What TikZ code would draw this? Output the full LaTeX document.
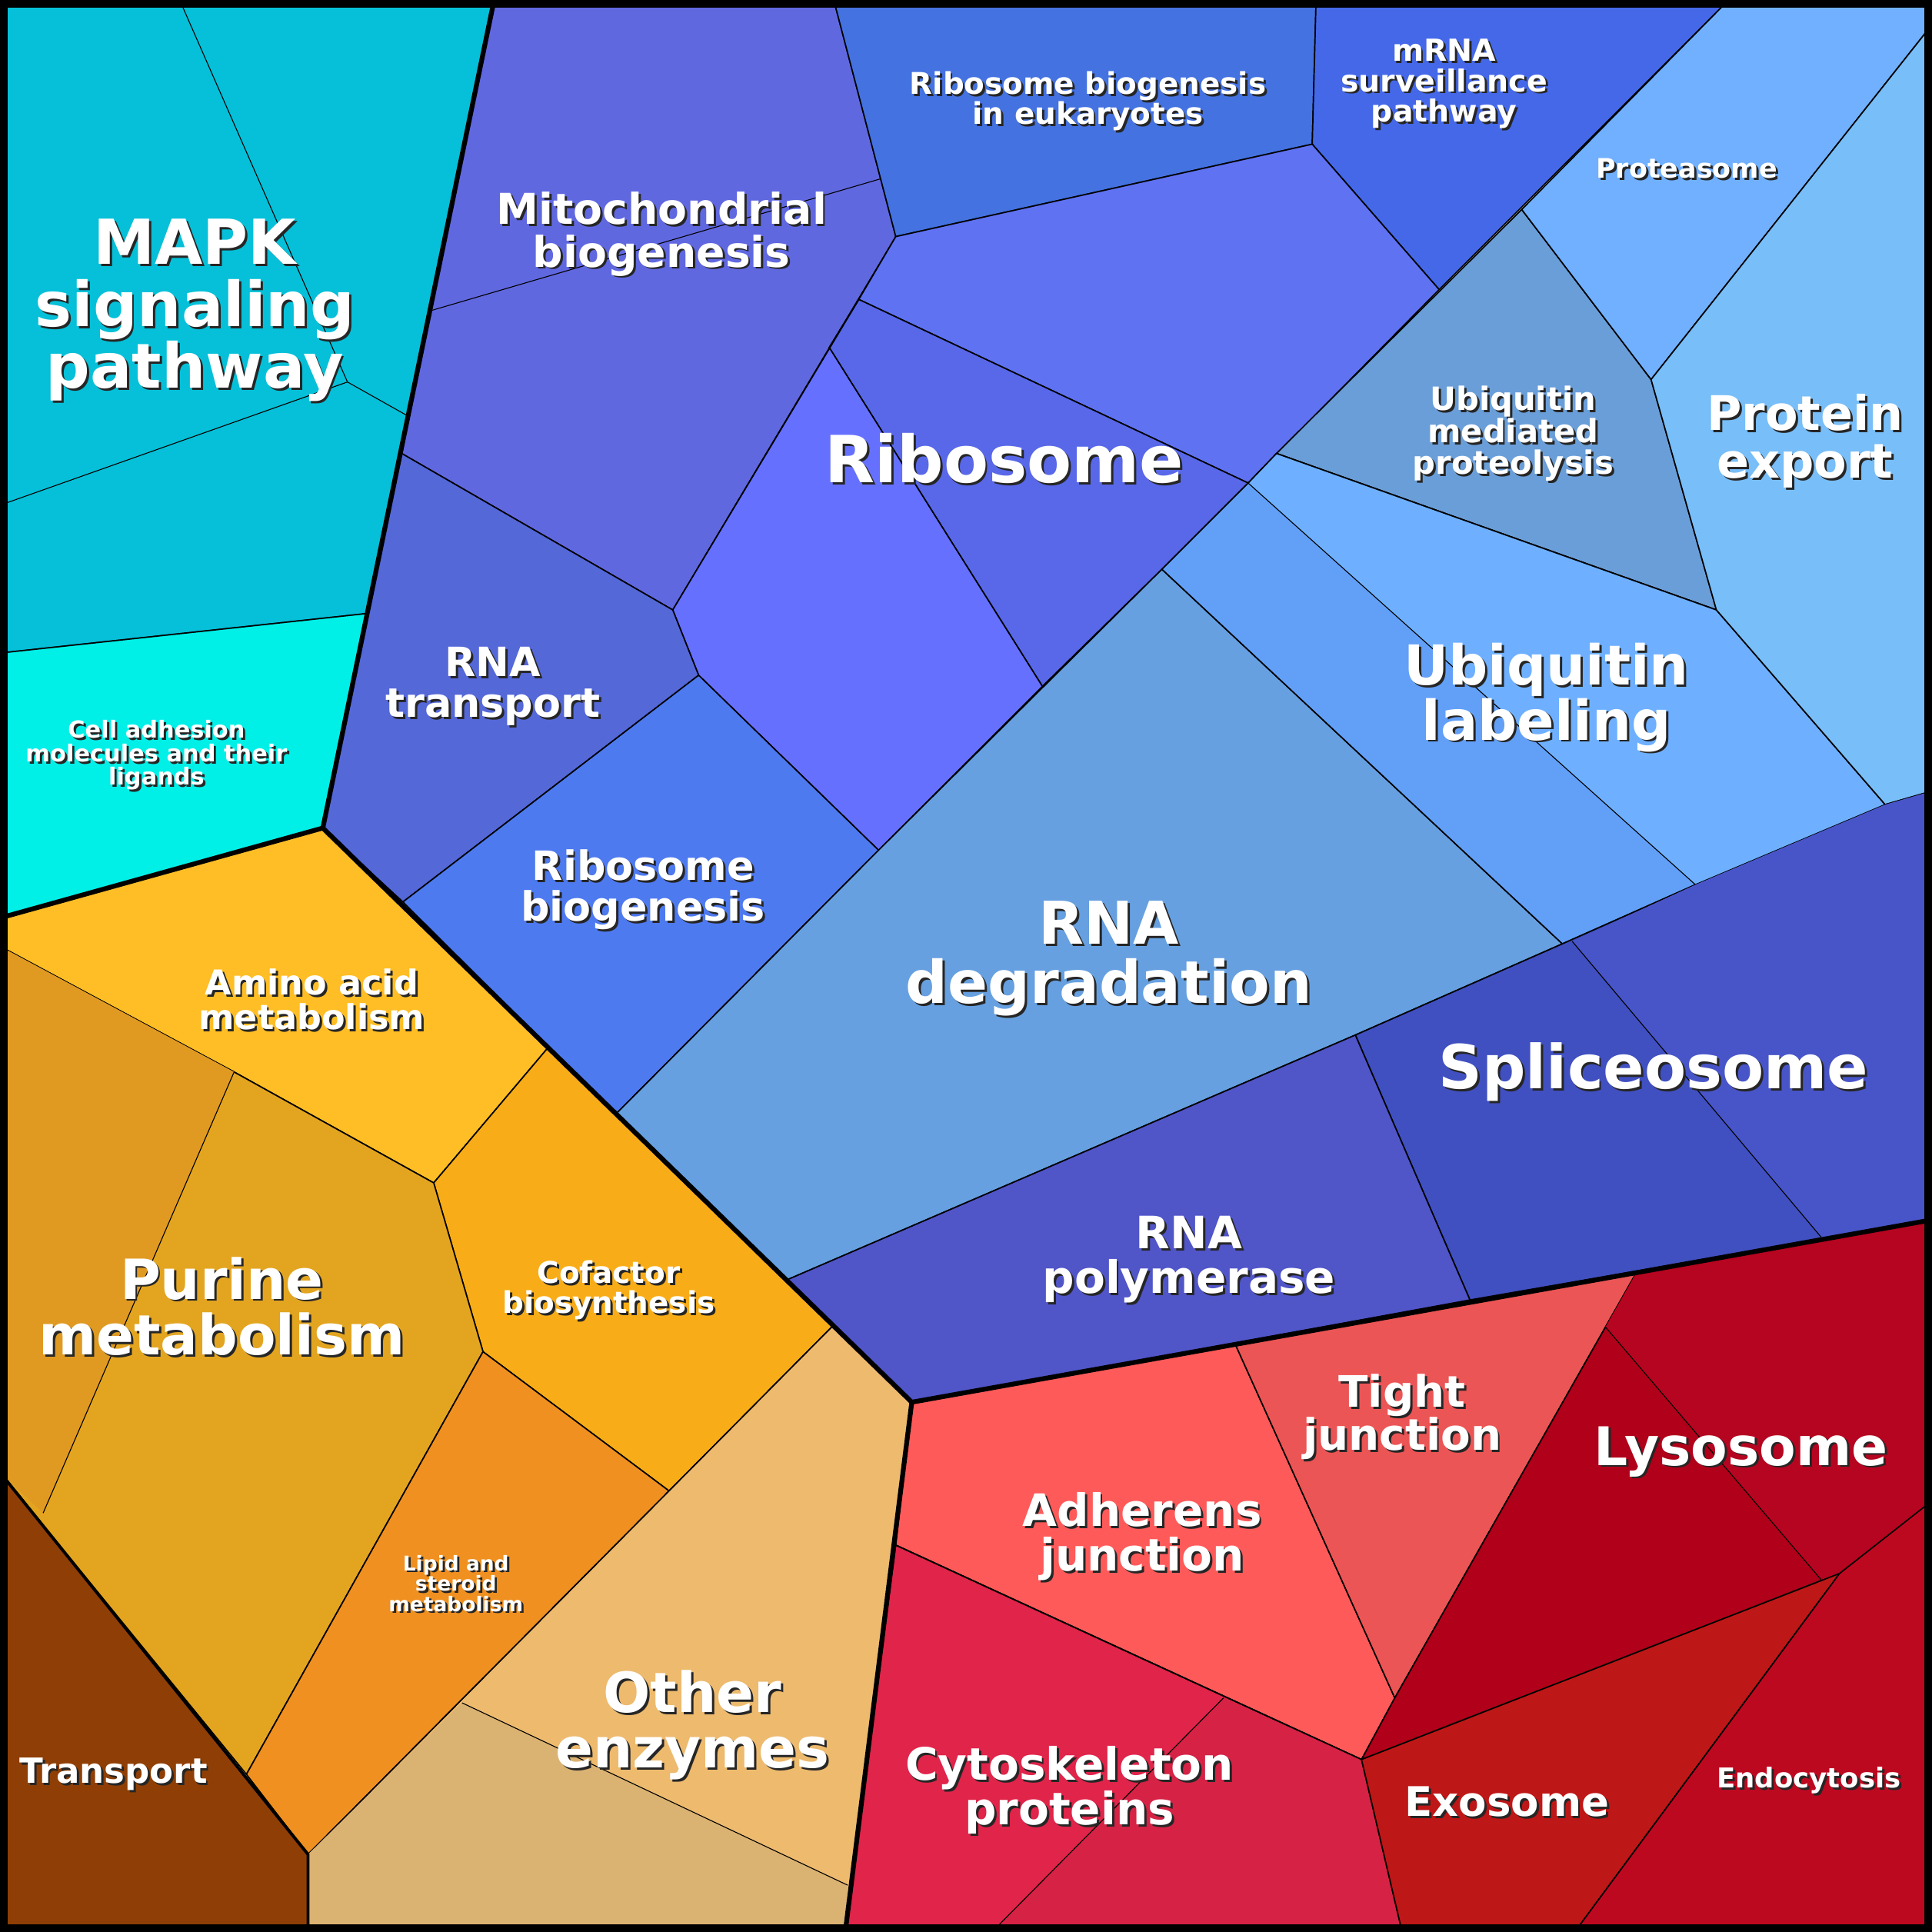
\documentclass[tikz,border=0pt]{standalone}
\usepackage{fontspec}
\setmainfont{DejaVu Sans}
\begin{document}
\begin{tikzpicture}[x=0.01cm,y=-0.01cm,
 cell/.style={draw=black,line width=0.3pt,line join=round},
 thin/.style={draw=black,line width=0.2pt},
 grp/.style={draw=black,line width=1.1pt,line join=round},
 lbl/.style={text=white,align=center,inner sep=0pt},
 lblsh/.style={text=black!85,align=center,inner sep=0pt}]
\newcommand\lbl[5]{\node[lblsh,font=\bfseries\fontsize{#4}{#4}\selectfont] at (#2+1.8,#3+1.8) {#5};
 \node[lbl,font=\bfseries\fontsize{#4}{#4}\selectfont] (#1) at (#2,#3) {#5};}
\useasboundingbox (0,0) rectangle (1568,1568);
% cyan
\fill[cell,fill={rgb,255:red,5;green,192;blue,216}] (0,0)--(400,5)--(297,498)--(0,530)--cycle;
\draw[thin] (148,5)--(282,310)--(330,337); \draw[thin] (282,310)--(0,410);
\fill[cell,fill={rgb,255:red,0;green,240;blue,232}] (0,530)--(297,498)--(262,672)--(0,745)--cycle;
% blue group
\fill[cell,fill={rgb,255:red,96;green,104;blue,224}] (400,5)--(678,5)--(727,192)--(546,495)--(326,368)--cycle;
\draw[thin] (350,252)--(715,145);
\fill[cell,fill={rgb,255:red,68;green,114;blue,224}] (678,5)--(1068,5)--(1065,117)--(727,192)--cycle;
\fill[cell,fill={rgb,255:red,68;green,104;blue,232}] (1068,5)--(1398,5)--(1168,235)--(1065,117)--cycle;
\fill[cell,fill={rgb,255:red,95;green,114;blue,242}] (727,192)--(1065,117)--(1168,235)--(1013,392)--(697,243)--cycle;
\fill[cell,fill={rgb,255:red,88;green,104;blue,232}] (697,243)--(1013,392)--(943,462)--(846,557)--(673,282)--cycle;
\fill[cell,fill={rgb,255:red,102;green,112;blue,255}] (673,282)--(846,557)--(713,690)--(567,548)--(546,495)--(697,243)--cycle;
\fill[cell,fill={rgb,255:red,84;green,104;blue,216}] (326,368)--(546,495)--(567,548)--(327,732)--(262,672)--cycle;
\fill[cell,fill={rgb,255:red,78;green,122;blue,240}] (567,548)--(713,690)--(500,904)--(327,732)--cycle;
\fill[cell,fill={rgb,255:red,102;green,160;blue,224}] (713,690)--(943,462)--(1268,766)--(1100,840)--(638,1039)--(500,904)--cycle;
\fill[cell,fill={rgb,255:red,106;green,158;blue,216}] (1036,368)--(1235,170)--(1340,308)--(1393,495)--cycle;
\fill[cell,fill={rgb,255:red,98;green,160;blue,248}] (943,462)--(1013,392)--(1036,368)--(1393,495)--(1530,653)--(1376,718)--(1268,766)--cycle;
\fill[fill={rgb,255:red,110;green,176;blue,255}] (1013,392)--(1036,368)--(1393,495)--(1530,653)--(1376,718)--cycle;
\draw[thin] (1013,392)--(1376,718);
\draw[cell] (1013,392)--(1036,368)--(1393,495)--(1530,653);
\fill[cell,fill={rgb,255:red,112;green,176;blue,255}] (1398,5)--(1568,5)--(1568,20)--(1340,308)--(1235,170)--cycle;
\fill[cell,fill={rgb,255:red,120;green,190;blue,248}] (1568,20)--(1568,642)--(1530,653)--(1393,495)--(1340,308)--cycle;
\fill[cell,fill={rgb,255:red,64;green,80;blue,192}] (1268,766)--(1376,718)--(1530,653)--(1568,642)--(1568,990)--(1193,1055)--(1100,840)--cycle;
\fill[fill={rgb,255:red,72;green,85;blue,200}] (1276,764)--(1376,718)--(1530,653)--(1568,642)--(1568,990)--(1478,1004)--cycle;
\draw[thin] (1276,764)--(1478,1004);
\fill[cell,fill={rgb,255:red,80;green,85;blue,200}] (638,1039)--(1100,840)--(1193,1055)--(740,1138)--cycle;
% orange group
\fill[cell,fill={rgb,255:red,255;green,190;blue,37}] (0,745)--(262,672)--(445,850)--(352,960)--(190,870)--(0,768)--cycle;
\fill[cell,fill={rgb,255:red,248;green,173;blue,24}] (445,850)--(676,1076)--(543,1210)--(392,1097)--(352,960)--cycle;
\fill[cell,fill={rgb,255:red,227;green,165;blue,32}] (0,768)--(190,870)--(352,960)--(392,1097)--(200,1440)--(0,1195)--cycle;
\fill[fill={rgb,255:red,224;green,154;blue,34}] (0,768)--(190,870)--(35,1228)--(0,1195)--cycle;
\draw[thin] (190,870)--(35,1228);
\fill[cell,fill={rgb,255:red,239;green,144;blue,32}] (392,1097)--(543,1210)--(250,1505)--(200,1440)--cycle;
\fill[cell,fill={rgb,255:red,143;green,63;blue,5}] (0,1195)--(250,1505)--(250,1568)--(0,1568)--cycle;
\fill[cell,fill={rgb,255:red,237;green,186;blue,110}] (676,1076)--(740,1138)--(686,1568)--(250,1568)--(250,1505)--(543,1210)--cycle;
\fill[fill={rgb,255:red,218;green,178;blue,114}] (375,1382)--(688,1530)--(686,1568)--(250,1568)--(250,1505)--cycle;
\draw[thin] (375,1382)--(688,1530);
\draw[black,line width=0.7pt] (0,1195)--(250,1505)--(250,1568);
% red group
\fill[cell,fill={rgb,255:red,255;green,90;blue,90}] (740,1138)--(1003,1092)--(1132,1378)--(1105,1428)--(727,1254)--cycle;
\fill[cell,fill={rgb,255:red,235;green,85;blue,85}] (1003,1092)--(1328,1033)--(1132,1378)--cycle;
\fill[cell,fill={rgb,255:red,176;green,0;blue,26}] (1328,1033)--(1568,990)--(1568,1218)--(1493,1277)--(1105,1428)--(1132,1378)--cycle;
\fill[fill={rgb,255:red,181;green,5;blue,32}] (1303,1077)--(1328,1033)--(1568,990)--(1568,1218)--(1493,1277)--(1478,1282)--cycle;
\draw[thin] (1303,1077)--(1478,1282);
\fill[cell,fill={rgb,255:red,224;green,36;blue,74}] (727,1254)--(1105,1428)--(1138,1568)--(686,1568)--cycle;
\fill[fill={rgb,255:red,213;green,34;blue,69}] (993,1378)--(1105,1428)--(1138,1568)--(805,1568)--cycle;
\draw[thin] (993,1378)--(805,1568);
\draw[cell] (727,1254)--(1105,1428)--(1138,1568);
\fill[cell,fill={rgb,255:red,190;green,23;blue,23}] (1105,1428)--(1493,1277)--(1278,1568)--(1138,1568)--cycle;
\fill[cell,fill={rgb,255:red,189;green,9;blue,32}] (1493,1277)--(1568,1218)--(1568,1568)--(1278,1568)--cycle;
% group outlines
\draw[grp] (400,5)--(262,672)--(0,745);
\draw[grp] (262,672)--(740,1138)--(1568,990);
\draw[grp] (740,1138)--(686,1568);
\draw[black,line width=1.8pt] (3,3) rectangle (1565,1565);
% labels
\lbl{mapk}{158}{252}{14.3}{MAPK\\signaling\\pathway}
\lbl{cam}{127}{613}{5.4}{Cell adhesion\\molecules and their\\ligands}
\lbl{mito}{537}{190}{9.8}{Mitochondrial\\biogenesis}
\lbl{rbe}{883}{82}{6.9}{Ribosome biogenesis\\in eukaryotes}
\lbl{mrna}{1172}{68}{7}{mRNA\\surveillance\\pathway}
\lbl{prot}{1369}{137}{6.2}{Proteasome}
\lbl{ribo}{815}{372}{15}{Ribosome}
\lbl{ump}{1228}{352}{7.4}{Ubiquitin\\mediated\\proteolysis}
\lbl{pexp}{1465}{358}{11}{Protein\\export}
\lbl{rnat}{400}{557}{9.3}{RNA\\transport}
\lbl{rbio}{522}{722}{9.3}{Ribosome\\biogenesis}
\lbl{ubl}{1255}{566}{12.7}{Ubiquitin\\labeling}
\lbl{rnad}{900}{778}{13.6}{RNA\\degradation}
\lbl{splice}{1342}{870}{14}{Spliceosome}
\lbl{rnap}{965}{1022}{10.3}{RNA\\polymerase}
\lbl{aam}{253}{811}{7.9}{Amino acid\\metabolism}
\lbl{cof}{494}{1047}{6.9}{Cofactor\\biosynthesis}
\lbl{pur}{180}{1060}{12.8}{Purine\\metabolism}
\lbl{lip}{370}{1285}{4.7}{Lipid and\\steroid\\metabolism}
\lbl{trans}{92}{1440}{8}{Transport}
\lbl{oth}{562}{1400}{12.8}{Other\\enzymes}
\lbl{adh}{927}{1247}{10.3}{Adherens\\junction}
\lbl{tight}{1138}{1150}{10}{Tight\\junction}
\lbl{lyso}{1413}{1178}{12.3}{Lysosome}
\lbl{cyto}{868}{1453}{10.3}{Cytoskeleton\\proteins}
\lbl{exo}{1223}{1462}{9.4}{Exosome}
\lbl{endo}{1468}{1445}{6.3}{Endocytosis}
\end{tikzpicture}
\end{document}
